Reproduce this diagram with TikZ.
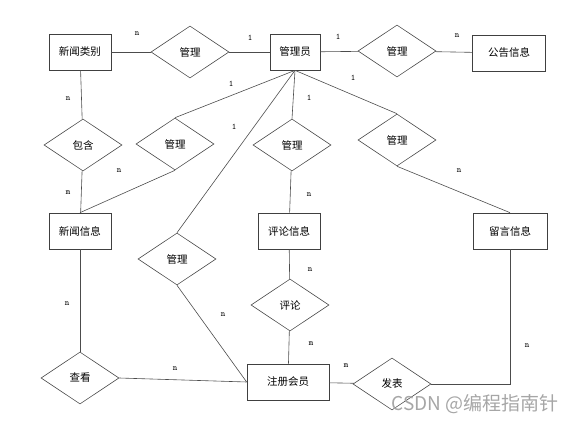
\documentclass[tikz,border=0pt]{standalone}
\usepackage{fontspec}
\newfontfamily\cjk{Noto Sans CJK SC}
\usetikzlibrary{shapes.geometric}

\begin{document}
\begin{tikzpicture}[x=1pt,y=-1pt,
  link/.style={draw=black!70,line width=0.6pt},
  entity/.style={rectangle,draw=black!75,line width=0.7pt,minimum height=36,inner sep=0pt,font=\cjk\fontsize{10.5}{12}\selectfont},
  rel/.style={diamond,draw=black!70,line width=0.6pt,minimum width=78,minimum height=52,inner sep=0pt,font=\cjk\fontsize{10.5}{12}\selectfont},
  card/.style={inner sep=0pt,font=\ttfamily\fontsize{8.5}{9}\selectfont}]
  \useasboundingbox (0,0) rectangle (574,422);

  % Entidades
  \node[entity,minimum width=62] (cat) at (80,52) {新闻类别};
  \node[entity,minimum width=50] (admin) at (295,52) {管理员};
  \node[entity,minimum width=73] (notice) at (509,53) {公告信息};
  \node[entity,minimum width=62] (news) at (80,231) {新闻信息};
  \node[entity,minimum width=62] (comment) at (289,231) {评论信息};
  \node[entity,minimum width=74] (msg) at (510,231) {留言信息};
  \node[entity,minimum width=82] (member) at (288,382) {注册会员};

  % Relaciones
  \node[rel] (mgrcat) at (190,52) {管理};
  \node[rel] (mgrnotice) at (397,51) {管理};
  \node[rel] (contain) at (83,145) {包含};
  \node[rel] (mgrnews) at (175,144) {管理};
  \node[rel] (mgrcomment) at (292,145) {管理};
  \node[rel] (mgrmsg) at (397,140) {管理};
  \node[rel] (mgrmember) at (177,259) {管理};
  \node[rel] (review) at (290,305) {评论};
  \node[rel] (view) at (80,378) {查看};
  \node[rel] (publish) at (392,384) {发表};

  % Aristas
  \foreach \from/\to in {cat/mgrcat, mgrcat/admin, admin/mgrnotice, mgrnotice/notice,
      cat/contain, contain/news, news/view, view.east/member.west,
      admin.south/mgrnews.north, mgrnews.south/news.north,
      admin.south/mgrmember.north, mgrmember.south/member.west,
      admin.south/mgrcomment.north, mgrcomment/comment,
      admin.south/mgrmsg.north, mgrmsg.south/msg.north,
      comment/review, review/member, member/publish}
    \draw[link] (\from) -- (\to);
  \draw[link] (publish.east) -| (msg.south);

  % Cardinalidades
  \node[card] (c1) at (137,34) {n};
  \node[card] (c2) at (250,38) {1};
  \node[card] (c3) at (338,37) {1};
  \node[card] (c4) at (457,36) {n};
  \node[card] (c5) at (68,99) {n};
  \node[card] (c6) at (68,193) {m};
  \node[card] (c7) at (231,84) {1};
  \node[card] (c8) at (119,171) {n};
  \node[card] (c9) at (234,127) {1};
  \node[card] (c10) at (223,315) {n};
  \node[card] (c11) at (309,98) {1};
  \node[card] (c12) at (309,195) {n};
  \node[card] (c13) at (353,78) {1};
  \node[card] (c14) at (459,171) {n};
  \node[card] (c15) at (67,304) {n};
  \node[card] (c16) at (175,369) {n};
  \node[card] (c17) at (310,270) {n};
  \node[card] (c18) at (311,344) {m};
  \node[card] (c19) at (346,366) {m};
  \node[card] (c20) at (527,346) {n};

  % Marca de agua
  \node[inner sep=0pt,text=black!35,font=\cjk\fontsize{19}{20}\selectfont] (mark) at (475,404) {CSDN @编程指南针};
\end{tikzpicture}
\end{document}
